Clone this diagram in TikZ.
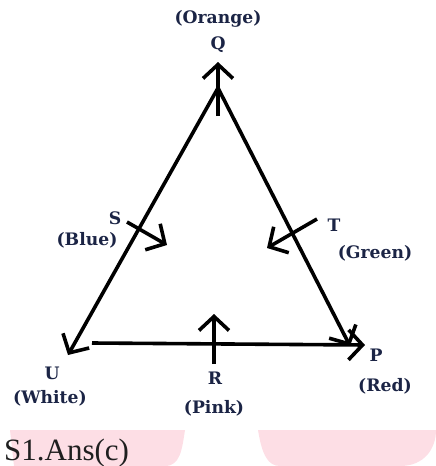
\documentclass[tikz,border=0pt]{standalone}
\usepackage{fontspec}
\setmainfont{DejaVu Serif}
\newfontfamily\ansfont{Liberation Serif}
\usetikzlibrary{arrows.meta}
\definecolor{labelcol}{HTML}{1B2445}
\definecolor{pinkbg}{HTML}{FDDEE5}
\tikzset{
  edge/.style={line width=3.6pt, -{Straight Barb[length=14pt,width=30pt,line width=3.6pt]}},
  lbl/.style={text=labelcol, font=\bfseries\fontsize{17.2}{19}\selectfont, inner sep=0pt},
}
\begin{document}
\begin{tikzpicture}[x=1pt,y=-1pt]
\useasboundingbox (0,0) rectangle (436,466);
% pink background shapes
\fill[pinkbg] (10,430) -- (185,430) .. controls (182,450) and (180,466) .. (165,466) -- (14,466) -- cycle;
\fill[pinkbg] (258,430) -- (436,430) .. controls (436,448) and (425,466) .. (400,466) -- (280,466) .. controls (268,466) and (262,455) .. cycle;
% coordinates
\coordinate (apex) at (218,88);
\coordinate (uend) at (68,355);
\coordinate (pend) at (350,346);
\coordinate (bl) at (92,343);
\coordinate (br) at (365,345);
\coordinate (qs) at (218,116);
\coordinate (qe) at (218,62);
\coordinate (ss) at (127,222);
\coordinate (se) at (167,245);
\coordinate (ts) at (317,219);
\coordinate (te) at (267,248);
\coordinate (rs) at (214,364);
\coordinate (re) at (214,314);
% triangle and arrows
\draw[edge] (apex) -- (uend);
\draw[edge] (apex) -- (pend);
\draw[edge] (bl) -- (br);
\draw[edge] (qs) -- (qe);
\draw[edge] (ss) -- (se);
\draw[edge] (ts) -- (te);
\draw[edge] (rs) -- (re);
% labels
\node[lbl] (orange) at (218,19) {(Orange)};
\node[lbl] (q) at (218,45) {Q};
\node[lbl] (s) at (115,218) {S};
\node[lbl] (blue) at (87,240) {(Blue)};
\node[lbl] (t) at (334,225) {T};
\node[lbl] (green) at (375,253) {(Green)};
\node[lbl] (u) at (52,373) {U};
\node[lbl] (white) at (50,398) {(White)};
\node[lbl] (r) at (215,378) {R};
\node[lbl] (pink) at (214,408) {(Pink)};
\node[lbl] (p) at (376,355) {P};
\node[lbl] (red) at (385,386) {(Red)};
\node[anchor=base west, inner sep=0pt, font=\ansfont\fontsize{31}{34}\selectfont, text=black!88] (ans) at (4,460) {S1.Ans(c)};
\end{tikzpicture}
\end{document}
